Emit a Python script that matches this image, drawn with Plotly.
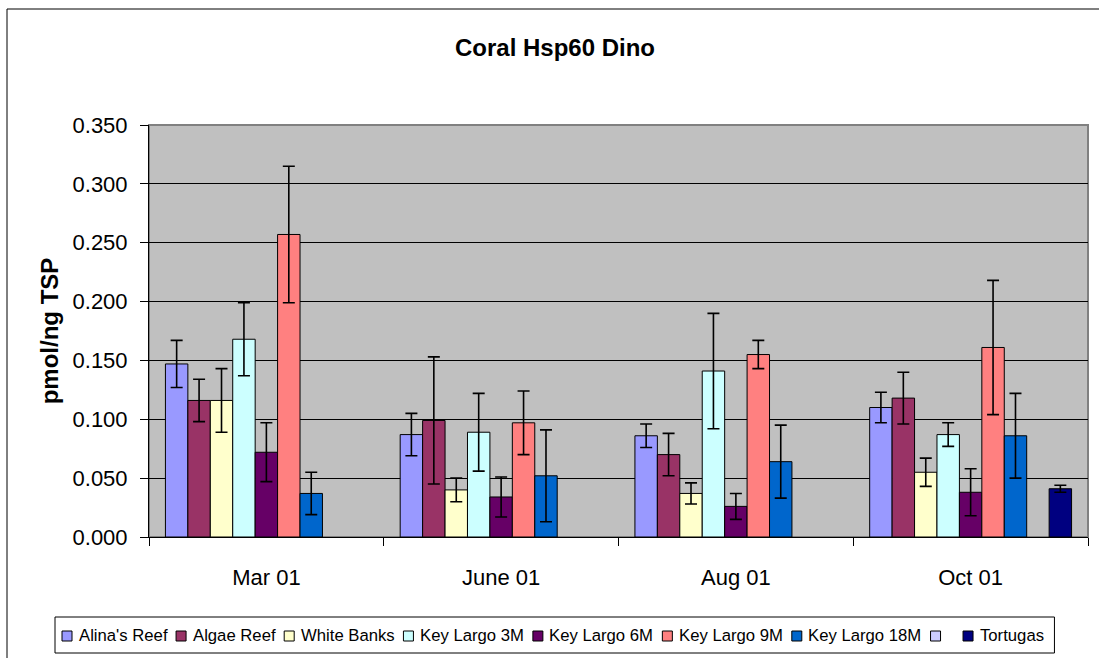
import plotly.graph_objects as go

# ---------------- data ----------------
categories = ["Mar 01", "June 01", "Aug 01", "Oct 01"]

series_names = ["Alina's Reef", "Algae Reef", "White Banks", "Key Largo 3M",
                "Key Largo 6M", "Key Largo 9M", "Key Largo 18M", "", "Tortugas"]

alinas_reef = [0.147, 0.087, 0.086, 0.110]
alinas_reef_err = [0.020, 0.018, 0.010, 0.013]
algae_reef = [0.116, 0.099, 0.070, 0.118]
algae_reef_err = [0.018, 0.054, 0.018, 0.022]
white_banks = [0.116, 0.040, 0.037, 0.055]
white_banks_err = [0.027, 0.010, 0.009, 0.012]
key_largo_3m = [0.168, 0.089, 0.141, 0.087]
key_largo_3m_err = [0.031, 0.033, 0.049, 0.010]
key_largo_6m = [0.072, 0.034, 0.026, 0.038]
key_largo_6m_err = [0.025, 0.017, 0.011, 0.020]
key_largo_9m = [0.257, 0.097, 0.155, 0.161]
key_largo_9m_err = [0.058, 0.027, 0.012, 0.057]
key_largo_18m = [0.037, 0.052, 0.064, 0.086]
key_largo_18m_err = [0.018, 0.039, 0.031, 0.036]
unnamed_series = [None, None, None, None]
unnamed_series_err = [0, 0, 0, 0]
tortugas = [None, None, None, 0.041]
tortugas_err = [0, 0, 0, 0.003]

series_values = [alinas_reef, algae_reef, white_banks, key_largo_3m, key_largo_6m,
                 key_largo_9m, key_largo_18m, unnamed_series, tortugas]
series_errors = [alinas_reef_err, algae_reef_err, white_banks_err, key_largo_3m_err,
                 key_largo_6m_err, key_largo_9m_err, key_largo_18m_err,
                 unnamed_series_err, tortugas_err]
series_colors = ["#9999FF", "#993366", "#FFFFCC", "#CCFFFF", "#660066",
                 "#FF8080", "#0066CC", "#CCCCFF", "#000080"]

y_ticks = [0.0, 0.05, 0.10, 0.15, 0.20, 0.25, 0.30, 0.35]

# ---------------- layout geometry ----------------
W, H = 1099, 658
L, R, T, B = 149, 11, 125, 121
PW, PH = W - L - R, H - T - B
FONT = "Liberation Sans, Arial, sans-serif"


def px_x(px):
    return (px - L) / PW


def px_y(py):
    return (H - B - py) / PH


fig = go.Figure()
for name, vals, errs, col in zip(series_names, series_values, series_errors, series_colors):
    fig.add_trace(go.Bar(
        x=categories, y=vals, name=name,
        marker=dict(color=col, line=dict(color="black", width=1)),
        error_y=dict(type="data", array=errs, visible=True, color="black",
                     thickness=1.6, width=6),
        showlegend=False,
    ))

shapes = []
annotations = []

# plot-area border (grey) and outer chart border
shapes.append(dict(type="rect", xref="paper", yref="paper", x0=0, x1=1, y0=0, y1=1,
                   line=dict(color="#808080", width=2), layer="below"))
shapes.append(dict(type="rect", xref="paper", yref="paper",
                   x0=px_x(7), x1=px_x(W + 10), y0=px_y(9), y1=px_y(H + 10),
                   line=dict(color="black", width=1)))

# ---------------- manual legend ----------------
CW = {"A": 667, "l": 222, "i": 222, "n": 556, "a": 556, "'": 191, "s": 500, " ": 278,
      "R": 722, "e": 556, "f": 278, "g": 556, "W": 944, "h": 556, "t": 278, "B": 667,
      "k": 500, "K": 667, "y": 500, "L": 556, "r": 333, "o": 556, "M": 833, "T": 611,
      "u": 556}
LEG_FONT = 16.7


def text_w(s):
    return sum(CW.get(c, 556) for c in s) / 1000 * LEG_FONT


leg_left, leg_top, leg_bot = 55, 617, 653
sym_top, sym_bot = 631, 641
x = 62
for name, col in zip(series_names, series_colors):
    shapes.append(dict(type="rect", xref="paper", yref="paper",
                       x0=px_x(x), x1=px_x(x + 10), y0=px_y(sym_bot), y1=px_y(sym_top),
                       fillcolor=col, line=dict(color="black", width=1)))
    tw = text_w(name) if name else 7
    if name:
        annotations.append(dict(xref="paper", yref="paper", x=px_x(x + 14.5), y=px_y(635.5),
                                text=name, showarrow=False, xanchor="left", yanchor="middle",
                                font=dict(family=FONT, size=LEG_FONT, color="black")))
    x = x + 16.5 + tw + 9
leg_right = x
shapes.append(dict(type="rect", xref="paper", yref="paper",
                   x0=px_x(leg_left), x1=px_x(leg_right), y0=px_y(leg_bot), y1=px_y(leg_top),
                   line=dict(color="black", width=1), fillcolor="rgba(0,0,0,0)"))

fig.update_layout(
    width=W, height=H, autosize=False,
    margin=dict(l=L, r=R, t=T, b=B, pad=0),
    paper_bgcolor="white", plot_bgcolor="#C0C0C0",
    barmode="group", bargap=0.14, bargroupgap=0,
    font=dict(family=FONT, color="black"),
    title=dict(text="Coral Hsp60 Dino", x=555 / W, xref="container", xanchor="center",
               y=1 - 47.5 / H, yref="container", yanchor="middle",
               font=dict(family=FONT, size=24, color="black", weight="bold")),
    xaxis=dict(type="category", showline=True, linecolor="black", linewidth=1,
               ticks="outside", tickson="boundaries", ticklen=8, tickcolor="black",
               showgrid=False, tickfont=dict(family=FONT, size=22, color="black"),
               ticklabelstandoff=21),
    yaxis=dict(range=[0, 0.35], tickvals=y_ticks, tickformat=".3f",
               showgrid=True, gridcolor="black", gridwidth=1, zeroline=False,
               showline=True, linecolor="black", linewidth=1,
               ticks="outside", ticklen=8, tickcolor="black",
               tickfont=dict(family=FONT, size=22, color="black"),
               ticklabelstandoff=8,
               title=dict(text="pmol/ng TSP", standoff=7,
                          font=dict(family=FONT, size=24, color="black", weight="bold"))),
    shapes=shapes, annotations=annotations, showlegend=False,
)

fig.write_html("out.html", config={"displayModeBar": False},
               post_script="document.body.style.margin='0px';document.body.style.overflow='hidden';")
